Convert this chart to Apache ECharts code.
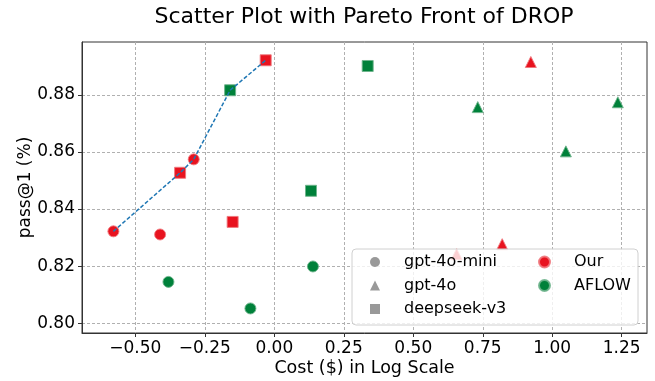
<!DOCTYPE html>
<html>
<head>
<meta charset="utf-8">
<script src="https://cdn.jsdelivr.net/npm/echarts@6/dist/echarts.min.js"></script>
<style>
  html, body { margin: 0; padding: 0; background: #fff; }
  #main { width: 655px; height: 381px; }
</style>
</head>
<body>
<div id="main"></div>
<script>
// cost (log scale) vs pass@1
const ourMini = [[-0.579, 0.8322], [-0.290, 0.8574], [-0.411, 0.8311]];
const our4o = [[0.923, 0.8915], [0.820, 0.8277], [0.656, 0.8242]];
const ourDeepseek = [[-0.339, 0.8527], [-0.031, 0.8921], [-0.150, 0.8355]];
const aflowMini = [[-0.381, 0.8145], [-0.086, 0.8052], [0.139, 0.8199]];
const aflow4o = [[0.732, 0.8757], [1.236, 0.8774], [1.049, 0.8602]];
const aflowDeepseek = [[-0.159, 0.8816], [0.132, 0.8464], [0.336, 0.8901]];
const paretoFront = [[-0.579, 0.8322], [-0.339, 0.8527], [-0.290, 0.8574], [-0.159, 0.8816], [-0.031, 0.8921]];

const xTicks = [-0.5, -0.25, 0, 0.25, 0.5, 0.75, 1.0, 1.25];
const yTicks = [0.80, 0.82, 0.84, 0.86, 0.88];
const modelNames = ['gpt-4o-mini', 'gpt-4o', 'deepseek-v3'];
const methodNames = ['Our', 'AFLOW'];

const RED = '#e8131f';
const GREEN = '#00813a';
const GRAY = '#808080';
const FONT = 'DejaVu Sans';

const chart = echarts.init(document.getElementById('main'));

const fmt = (v) => v.toFixed(2).replace('-', '\u2212');

function pts(name, data, color, symbol) {
  return {
    name: name,
    type: 'scatter',
    data: data,
    symbol: symbol,
    symbolSize: 11,
    itemStyle: {
      color: color,
      opacity: 1,
      borderColor: color === RED ? 'rgba(240,120,125,0.9)' : 'rgba(110,180,140,0.9)',
      borderWidth: 1
    },
    z: 3
  };
}

const legendText = { fontFamily: FONT, fontSize: 16, color: '#000', lineHeight: 18, padding: [0, 0, 0, 19] };

const option = {
  animation: false,
  title: {
    text: 'Scatter Plot with Pareto Front of DROP',
    left: 364,
    top: 6,
    padding: 0,
    textAlign: 'center',
    textStyle: { fontFamily: FONT, fontSize: 22, fontWeight: 'normal', color: '#000' }
  },
  grid: {
    left: 82,
    right: 8,
    top: 42,
    bottom: 48,
    outerBoundsMode: 'none',
    show: true,
    borderColor: '#333',
    borderWidth: 1
  },
  graphic: {
    elements: [{
      type: 'rect',
      z: 5,
      shape: { x: 352, y: 249, width: 286, height: 76, r: 4 },
      style: { fill: 'rgba(255,255,255,0.8)', stroke: '#d0d0d0', lineWidth: 1 }
    }]
  },
  legend: [
    {
      z: 10,
      left: 370,
      top: 253,
      orient: 'vertical',
      padding: 0,
      itemWidth: 10,
      itemHeight: 10,
      itemGap: 5.5,
      textStyle: legendText,
      data: [
        { name: modelNames[0], icon: 'circle' },
        { name: modelNames[1], icon: 'triangle' },
        { name: modelNames[2], icon: 'rect' }
      ]
    },
    {
      z: 10,
      left: 538,
      top: 253,
      orient: 'vertical',
      padding: 0,
      itemWidth: 11,
      itemHeight: 11,
      itemGap: 5.5,
      textStyle: legendText,
      data: [
        { name: methodNames[0], icon: 'circle' },
        { name: methodNames[1], icon: 'circle' }
      ]
    }
  ],
  xAxis: {
    type: 'value',
    min: -0.692,
    max: 1.341,
    name: 'Cost ($) in Log Scale',
    nameLocation: 'middle',
    nameGap: 26,
    nameMoveOverlap: false,
    nameTextStyle: { fontFamily: FONT, fontSize: 17.5, color: '#000' },
    axisLine: { show: true, onZero: false, lineStyle: { color: '#333' } },
    axisTick: { show: true, length: 4, inside: false, customValues: xTicks, lineStyle: { color: '#333' } },
    axisLabel: { customValues: xTicks, margin: 7, formatter: fmt, fontFamily: FONT, fontSize: 17, color: '#000' },
    splitLine: { show: true, lineStyle: { color: '#b0b0b0', type: [3, 2], width: 1 } }
  },
  yAxis: {
    type: 'value',
    min: 0.7966,
    max: 0.8985,
    name: 'pass@1 (%)',
    nameLocation: 'middle',
    nameGap: 48,
    nameMoveOverlap: false,
    nameTextStyle: { fontFamily: FONT, fontSize: 17, color: '#000' },
    axisLine: { show: true, onZero: false, lineStyle: { color: '#333' } },
    axisTick: { show: true, length: 4, inside: false, customValues: yTicks, lineStyle: { color: '#333' } },
    axisLabel: { customValues: yTicks, margin: 7, formatter: fmt, fontFamily: FONT, fontSize: 17, color: '#000' },
    splitLine: { show: true, lineStyle: { color: '#b0b0b0', type: [3, 2], width: 1 } }
  },
  series: [
    pts(methodNames[0], ourMini, RED, 'circle'),
    pts(methodNames[0], our4o, RED, 'triangle'),
    pts(methodNames[0], ourDeepseek, RED, 'rect'),
    pts(methodNames[1], aflowMini, GREEN, 'circle'),
    pts(methodNames[1], aflow4o, GREEN, 'triangle'),
    pts(methodNames[1], aflowDeepseek, GREEN, 'rect'),
    { name: modelNames[0], type: 'scatter', data: [], symbol: 'circle', itemStyle: { color: GRAY } },
    { name: modelNames[1], type: 'scatter', data: [], symbol: 'triangle', itemStyle: { color: GRAY } },
    { name: modelNames[2], type: 'scatter', data: [], symbol: 'rect', itemStyle: { color: GRAY } },
    {
      name: 'Pareto Front',
      type: 'line',
      data: paretoFront,
      symbol: 'none',
      z: 4,
      lineStyle: { color: '#1f77b4', width: 1.5, type: [4, 2] }
    }
  ]
};

chart.setOption(option);
</script>
</body>
</html>
